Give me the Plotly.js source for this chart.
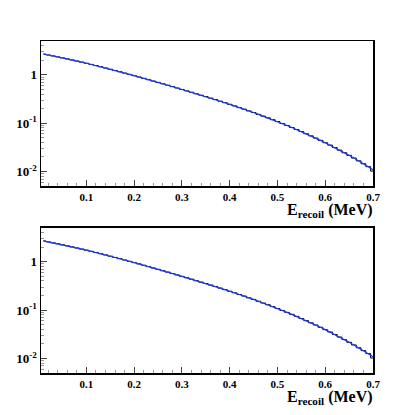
<!DOCTYPE html>
<html>
<head>
<meta charset="utf-8">
<script src="https://cdn.plot.ly/plotly-3.0.1.min.js"></script>
<style>
  html, body { margin: 0; padding: 0; background: #fff; }
  #chart { width: 415px; height: 415px; }
</style>
</head>
<body>
<div id="chart"></div>
<script>
// bin centres (MeV), bin width 0.01
const ENERGY = [
    0.01, 0.02, 0.03, 0.04, 0.05, 0.06, 0.07, 0.08, 0.09, 0.10,
    0.11, 0.12, 0.13, 0.14, 0.15, 0.16, 0.17, 0.18, 0.19, 0.20,
    0.21, 0.22, 0.23, 0.24, 0.25, 0.26, 0.27, 0.28, 0.29, 0.30,
    0.31, 0.32, 0.33, 0.34, 0.35, 0.36, 0.37, 0.38, 0.39, 0.40,
    0.41, 0.42, 0.43, 0.44, 0.45, 0.46, 0.47, 0.48, 0.49, 0.50,
    0.51, 0.52, 0.53, 0.54, 0.55, 0.56, 0.57, 0.58, 0.59, 0.60,
    0.61, 0.62, 0.63, 0.64, 0.65, 0.66, 0.67, 0.68, 0.69, 0.70,
];

// upper panel: black histogram + blue overlay
const TOP_HIST = [
    2.692, 2.576, 2.460, 2.350, 2.239, 2.133, 2.028, 1.928, 1.828, 1.734,
    1.641, 1.552, 1.466, 1.384, 1.303, 1.227, 1.156, 1.086, 1.021, 0.959,
    0.902, 0.845, 0.793, 0.743, 0.697, 0.652, 0.610, 0.570, 0.533, 0.498,
    0.466, 0.436, 0.406, 0.379, 0.354, 0.330, 0.307, 0.285, 0.265, 0.245,
    0.228, 0.210, 0.195, 0.179, 0.166, 0.152, 0.140, 0.129, 0.118, 0.108,
    0.0982, 0.0895, 0.0815, 0.0740, 0.0670, 0.0605, 0.0546, 0.0491, 0.0441, 0.0394,
    0.0352, 0.0313, 0.0277, 0.0245, 0.0216, 0.0190, 0.0166, 0.0145, 0.0126, 0.0102,
];
const TOP_FIT = [
    2.692, 2.576, 2.460, 2.350, 2.239, 2.133, 2.028, 1.928, 1.828, 1.734,
    1.641, 1.552, 1.466, 1.384, 1.303, 1.227, 1.156, 1.086, 1.021, 0.959,
    0.902, 0.845, 0.793, 0.743, 0.697, 0.652, 0.610, 0.570, 0.533, 0.498,
    0.466, 0.436, 0.406, 0.379, 0.354, 0.330, 0.307, 0.285, 0.265, 0.245,
    0.228, 0.210, 0.195, 0.179, 0.166, 0.152, 0.140, 0.129, 0.118, 0.108,
    0.0982, 0.0895, 0.0815, 0.0740, 0.0670, 0.0605, 0.0546, 0.0491, 0.0441, 0.0394,
    0.0352, 0.0313, 0.0277, 0.0245, 0.0216, 0.0190, 0.0166, 0.0145, 0.0126, 0.0109,
];

// lower panel
const BOTTOM_HIST = TOP_HIST.slice();
const BOTTOM_FIT = TOP_FIT.slice();

const Y_TICKS = [0.01, 0.1, 1];
const Y_TICK_TEXT = ["10<sup>-2</sup>", "10<sup>-1</sup>", "1"];
const Y_MINOR = [
    0.006, 0.007, 0.008, 0.009,
    0.02, 0.03, 0.04, 0.05, 0.06, 0.07, 0.08, 0.09,
    0.2, 0.3, 0.4, 0.5, 0.6, 0.7, 0.8, 0.9,
    2, 3, 4, 5,
];
const X_TICKS = [0.1, 0.2, 0.3, 0.4, 0.5, 0.6, 0.7];
const X_TICK_TEXT = X_TICKS.map((v) => v.toFixed(1));

const SERIF = "Liberation Serif";
const BLUE = "#1a3cff";

function xAxis(anchor) {
    return {
        anchor,
        range: [0.005, 0.7],
        tickmode: "array",
        tickvals: X_TICKS,
        ticktext: X_TICK_TEXT,
        ticks: "inside",
        ticklen: 6,
        tickcolor: "#444",
        minor: { dtick: 0.02, tick0: 0, ticks: "inside", ticklen: 3, tickcolor: "#999" },
        showline: true, mirror: true, linecolor: "#000", linewidth: 1.5,
        showgrid: false, zeroline: false,
        tickfont: { family: SERIF, size: 11, color: "#000", weight: "bold" },
        fixedrange: true,
    };
}

function yAxis(anchor, domain) {
    return {
        anchor,
        domain,
        type: "log",
        range: [Math.log10(0.005), Math.log10(5)],
        tickmode: "array",
        tickvals: Y_TICKS,
        ticktext: Y_TICK_TEXT,
        ticks: "inside",
        ticklen: 6,
        tickcolor: "#444",
        minor: { tickmode: "array", tickvals: Y_MINOR, ticks: "inside", ticklen: 3, tickcolor: "#999" },
        showline: true, mirror: true, linecolor: "#000", linewidth: 1.5,
        showgrid: false, zeroline: false,
        tickfont: { family: SERIF, size: 13, color: "#000", weight: "bold" },
        fixedrange: true,
    };
}

function pair(xa, ya, hist, fit) {
    return [
        {
            x: ENERGY, y: hist, xaxis: xa, yaxis: ya,
            type: "scatter", mode: "lines",
            line: { color: "#000", width: 1, shape: "hvh" },
            hoverinfo: "skip", showlegend: false,
        },
        {
            x: ENERGY, y: fit, xaxis: xa, yaxis: ya,
            type: "scatter", mode: "lines",
            line: { color: BLUE, width: 1.2 },
            hoverinfo: "skip", showlegend: false,
        },
    ];
}

const traces = [
    ...pair("x", "y", TOP_HIST, TOP_FIT),
    ...pair("x2", "y2", BOTTOM_HIST, BOTTOM_FIT),
];

const titleText = "E<sub>recoil</sub> (MeV)";
const titleFont = { family: SERIF, size: 16, color: "#000", weight: "bold" };

const layout = {
    width: 415,
    height: 415,
    margin: { t: 41, b: 42, l: 41, r: 42 },
    paper_bgcolor: "#fff",
    plot_bgcolor: "#fff",
    showlegend: false,
    xaxis: xAxis("y"),
    yaxis: yAxis("x", [0.563, 1]),
    xaxis2: xAxis("y2"),
    yaxis2: yAxis("x2", [0, 0.437]),
    annotations: [
        {
            text: titleText, xref: "paper", yref: "paper",
            x: 1.0, y: 0.563, xanchor: "right", yanchor: "top", yshift: -13, xshift: 2,
            showarrow: false, font: titleFont,
        },
        {
            text: titleText, xref: "paper", yref: "paper",
            x: 1.0, y: 0, xanchor: "right", yanchor: "top", yshift: -13, xshift: 2,
            showarrow: false, font: titleFont,
        },
    ],
    font: { family: SERIF, size: 11, color: "#000" },
};

Plotly.newPlot("chart", traces, layout, { displayModeBar: false, staticPlot: true });
</script>
</body>
</html>
